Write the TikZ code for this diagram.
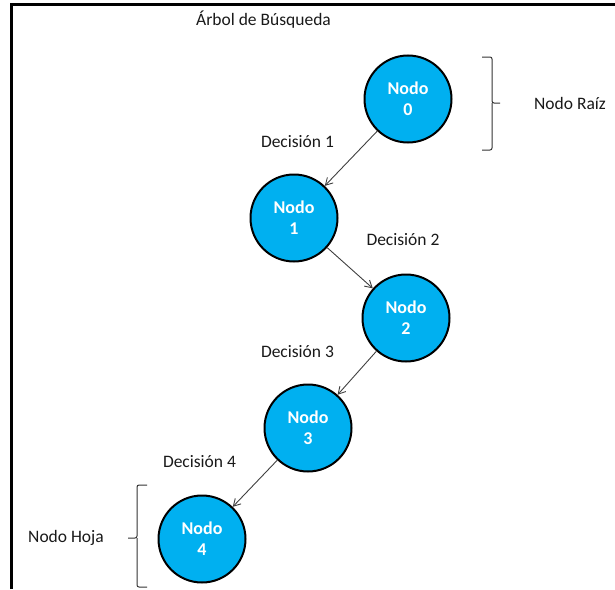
\documentclass[tikz,border=0pt]{standalone}
\usepackage{fontspec}
\setmainfont{Carlito}
\usetikzlibrary{arrows.meta}
\definecolor{nodeblue}{HTML}{00B0F0}
\definecolor{linkgray}{HTML}{404040}
\begin{document}
\begin{tikzpicture}[x=1pt,y=-1pt,
  treenode/.style={circle,draw=black,line width=2pt,fill=nodeblue,
    minimum size=87pt,inner sep=0pt,text=white,align=center,
    font=\fontsize{18}{21}\selectfont\bfseries},
  label/.style={font=\fontsize{17.5}{20}\selectfont,text=black!90,inner sep=0pt},
  link/.style={draw=linkgray,line width=0.9pt,-{Straight Barb[length=7pt,width=8pt]}},
  brace/.style={draw=black!80,line width=1pt,rounded corners=2pt}
]
\useasboundingbox (0,0) rectangle (615,589);
% frame
\draw[line width=3pt] (11,589) -- (11,4.5) -- (615,4.5);

% title
\node[label] (title) at (263.5,20) {Árbol de Búsqueda};

% tree nodes
\node[treenode] (n0) at (408,99)  {Nodo\\0};
\node[treenode] (n1) at (294,218) {Nodo\\1};
\node[treenode] (n2) at (406,318) {Nodo\\2};
\node[treenode] (n3) at (308,428) {Nodo\\3};
\node[treenode] (n4) at (202,539) {Nodo\\4};

% decisions
\draw[link] (n0) -- (n1);
\draw[link] (n1) -- (n2);
\draw[link] (n2) -- (n3);
\draw[link] (n3) -- (n4);

\node[label] (d1) at (297.5,142) {Decisión 1};
\node[label] (d2) at (403,240)   {Decisión 2};
\node[label] (d3) at (297.5,352) {Decisión 3};
\node[label] (d4) at (199.5,462) {Decisión 4};

% root brace
\draw[brace] (482,57) -- (492,57) -- (492,103) -- (500,103);
\draw[brace] (482,150) -- (492,150) -- (492,103);
\node[label] (root) at (570,103) {Nodo Raíz};

% leaf brace
\draw[brace] (147,485) -- (137,485) -- (137,538) -- (128,538);
\draw[brace] (147,587) -- (137,587) -- (137,538);
\node[label] (leaf) at (66,538) {Nodo Hoja};
\end{tikzpicture}
\end{document}
